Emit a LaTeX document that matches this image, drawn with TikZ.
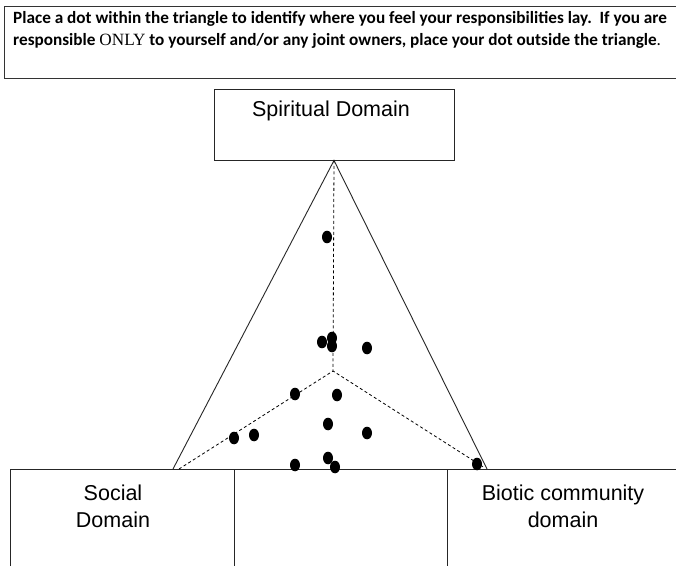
\documentclass[tikz,border=0pt]{standalone}
\usepackage{fontspec}
\setmainfont{Liberation Sans}
\newfontfamily\hdrfont{Carlito}
\newfontfamily\tmsfont{Liberation Serif}
\begin{document}
\begin{tikzpicture}[x=1pt,y=-1pt,
  line/.style={draw=black!85, line width=0.9pt},
  dashline/.style={draw=black, line width=0.8pt, dash pattern=on 3pt off 2.5pt},
  hdr/.style={anchor=base west, inner sep=0pt, font=\hdrfont\bfseries\fontsize{17.2}{20}\selectfont},
  lbl/.style={inner sep=0pt, font=\fontsize{21.5}{27}\selectfont},
  dot/.style={fill=black}]
\useasboundingbox (0,0) rectangle (676,566);
\fill[white] (0,0) rectangle (676,566);
% header
\draw[draw=black!80, line width=1pt] (4,6) rectangle (680,78);
\node[hdr] (l1) at (13,23.5) {Place a dot within the triangle to identify where you feel your responsibilities lay.\ \ If you are};
\node[hdr] (l2) at (13,45.5) {responsible {\tmsfont\mdseries ONLY} to yourself and/or any joint owners, place your dot outside the triangle{\mdseries .}};
% spiritual box
\node[line, rectangle, minimum width=240pt, minimum height=71pt, inner sep=0pt] (spirit) at (334,124.5) {};
\node[lbl] (spiritlbl) at (331,111) {Spiritual Domain};
% bottom boxes
\draw[line] (10,566) -- (10,469) -- (676,469);
\draw[line] (234,469) -- (234,566);
\draw[line] (447,469) -- (447,566);
\node[lbl, align=center] (social) at (113,506) {Social\\Domain};
\node[lbl, align=center] (biotic) at (563,506) {Biotic community\\domain};
% triangle
\coordinate (bl) at (173,469);
\coordinate (br) at (487,469);
\coordinate (ctr) at (333,371);
\coordinate (dl) at (179,469);
\coordinate (dr) at (485,468);
\draw[line] (bl) -- (spirit.south) -- (br);
\draw[dashline] (spirit.south) -- (ctr);
\draw[dashline] (dl) -- (ctr) -- (dr);
% dots
\foreach \x/\y in {327/237, 322/342, 332/338, 332/346, 367/348, 295/394, 337/395,
  234/438, 254/435, 328/424, 367/433, 328/458, 295/465, 335/467, 477/464}
  \fill[dot] (\x,\y) ellipse [x radius=5, y radius=6.3];
\end{tikzpicture}
\end{document}
